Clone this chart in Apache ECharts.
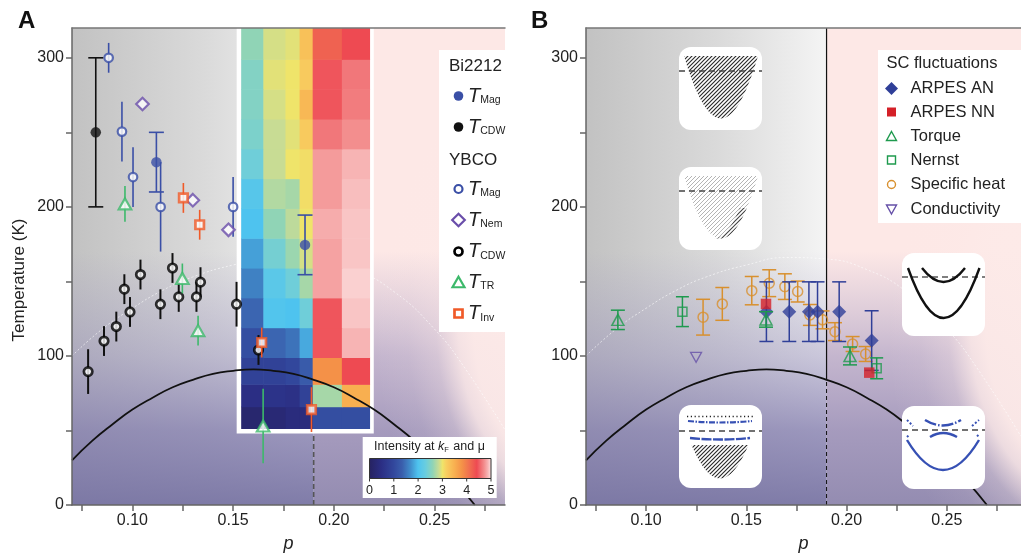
<!DOCTYPE html>
<html>
<head>
<meta charset="utf-8">
<title>Cuprate phase diagram</title>
<script src="https://cdn.jsdelivr.net/npm/echarts@6.0.0/dist/echarts.min.js"></script>
<style>
html, body { margin: 0; padding: 0; background: #ffffff; }
#chart { width: 1021px; height: 556px; }
</style>
</head>
<body>
<div id="chart"></div>
<script>
const FONT = '"Liberation Sans", Arial, Helvetica, sans-serif';

// ---------- axes ----------
const pMin = 0.07;
const pMaxA = 0.285;
const pMaxB = 0.287;
const tMax = 320;
const pTickValues = [0.075, 0.10, 0.125, 0.15, 0.175, 0.20, 0.225, 0.25, 0.275];
const pLabelValues = [0.10, 0.15, 0.20, 0.25];
const tTickValues = [0, 50, 100, 150, 200, 250, 300];
const tLabelValues = [0, 100, 200, 300];
const pCritical = 0.19;

// ---------- superconducting dome ----------
const domeP  = [0.07, 0.08, 0.09, 0.10, 0.11, 0.12, 0.13, 0.14, 0.15, 0.16, 0.17, 0.18, 0.19, 0.20, 0.21, 0.22, 0.23, 0.24, 0.25, 0.26, 0.27];
const domeTc = [30, 43, 54, 64, 72, 79, 84, 88, 90, 91, 90, 88, 84, 79, 72, 64, 54, 43, 30, 16, 0];

// faint crossover arc
const arcP = [0.07, 0.085, 0.10, 0.115, 0.13, 0.15, 0.17, 0.19, 0.21, 0.23, 0.25, 0.265, 0.287];
const arcT = [100, 118, 132, 144, 153, 161, 166, 165, 158, 143, 118, 92, 46];

// ---------- panel A: [p, T, error] ----------
const bi2212Mag = [[0.1119, 230, 20], [0.1857, 174.5, 20]];
const bi2212Cdw = [[0.0818, 250, 50]];
const ybcoMag = [[0.0882, 300, 10], [0.0948, 250.5, 20], [0.1003, 220, 20], [0.114, 200, 30], [0.150, 200, 20]];
const ybcoNem = [[0.105, 269], [0.130, 204.5], [0.1477, 184.6]];
const ybcoCdw = [[0.078, 89.5, 15], [0.0859, 110, 10], [0.092, 119.7, 10], [0.096, 144.8, 10], [0.0988, 129.5, 10],
                 [0.104, 154.6, 10], [0.1139, 134.7, 10], [0.1199, 159, 10], [0.123, 139.6, 10], [0.1318, 139.6, 10],
                 [0.1338, 149.5, 10], [0.1517, 134.7, 15], [0.1626, 104, 10]];
const ybcoTr  = [[0.0963, 202, 12], [0.1248, 152, 10], [0.1326, 117, 10], [0.1649, 53, 25]];
const ybcoInv = [[0.1253, 206, 10], [0.1334, 188, 10], [0.1642, 109, 10], [0.1889, 64, 15]];

// ARPES intensity map: column edges in p, row edges in K, values listed bottom row first
const heatColEdges = [0.154, 0.165, 0.176, 0.183, 0.1895, 0.204, 0.218];
const heatRowEdges = [51, 66, 81, 99, 119, 139, 159, 179, 199, 219, 239, 259, 279, 299, 320];
const heatRows = [
  [0.20, 0.30, 0.40, 0.40, 1.10, 1.10],
  [0.50, 0.60, 0.55, 0.90, 2.70, 3.50],
  [0.90, 0.90, 1.00, 1.30, 3.80, 4.40],
  [1.10, 1.40, 1.50, 1.85, 4.45, 4.85],
  [1.40, 2.05, 2.00, 2.35, 4.45, 4.90],
  [1.60, 2.15, 2.35, 2.70, 4.78, 4.93],
  [1.80, 2.40, 2.65, 2.90, 4.78, 4.90],
  [2.00, 2.60, 2.80, 3.00, 4.82, 4.90],
  [2.10, 2.75, 2.70, 3.05, 4.75, 4.88],
  [2.35, 2.85, 3.00, 3.05, 4.75, 4.85],
  [2.45, 2.85, 2.95, 3.20, 4.60, 4.70],
  [2.50, 2.90, 3.00, 3.40, 4.45, 4.62],
  [2.50, 2.95, 3.00, 3.20, 4.45, 4.60],
  [2.60, 2.90, 2.95, 3.30, 4.20, 4.40]
];
const intensityTicks = [0, 1, 2, 3, 4, 5];

// ---------- panel B: [p, T, error] ----------
const arpesAN = [[0.160, 129.7, 20], [0.1714, 129.7, 20], [0.1812, 129.7, 20], [0.1855, 129.7, 20], [0.1963, 129.7, 20], [0.2125, 110.3, 20]];
const arpesNN = [[0.1598, 134.9], [0.2113, 88.8]];
const torque  = [[0.0859, 124.2, 6.5], [0.1598, 124.5, 5.2], [0.2017, 100, 6]];
const nernst  = [[0.1181, 129.7, 10], [0.215, 91.7, 7]];
const specificHeat = [[0.1284, 126, 12], [0.138, 134.9, 11], [0.1527, 143.8, 9.5], [0.1614, 148.8, 9], [0.1692, 146.5, 8.6],
                      [0.1756, 143.2, 7], [0.1817, 127.5, 7], [0.188, 124.2, 6], [0.1942, 116.3, 6], [0.203, 108, 5], [0.2095, 101.3, 5]];
const conductivity = [[0.1249, 99.1]];

// ---------- colour map for the intensity scale ----------
const intensityStops = [
  [0.0, '#26225f'], [0.5, '#2b2e84'], [1.0, '#32479c'], [1.35, '#3a5eac'], [1.7, '#418fcc'],
  [2.0, '#4ec3ef'], [2.3, '#68cde0'], [2.6, '#90d4b6'], [2.85, '#c8dc94'], [3.0, '#efe46a'],
  [3.15, '#f8cf60'], [3.5, '#f8af50'], [3.8, '#f49148'], [4.1, '#f06e50'], [4.4, '#ee4a52'],
  [4.7, '#f38e8e'], [4.85, '#f7b4b4'], [5.0, '#fde8e8']
];
function hexRgb(h) { return [1, 3, 5].map(i => parseInt(h.slice(i, i + 2), 16)); }
function colorAt(v) {
  const s = intensityStops;
  if (v <= s[0][0]) return s[0][1];
  for (let i = 1; i < s.length; i++) {
    if (v <= s[i][0]) {
      const t = (v - s[i - 1][0]) / (s[i][0] - s[i - 1][0]);
      const a = hexRgb(s[i - 1][1]), b = hexRgb(s[i][1]);
      const c = a.map((x, k) => Math.round(x + (b[k] - x) * t));
      return `rgb(${c[0]},${c[1]},${c[2]})`;
    }
  }
  return s[s.length - 1][1];
}

// ---------- layout ----------
const GA = { left: 72, top: 28, width: 433, height: 477, pMax: pMaxA };
const GB = { left: 586, top: 28, width: 435, height: 477, pMax: pMaxB };

const chart = echarts.init(document.getElementById('chart'), null, { renderer: 'canvas' });

function pAxis(gi, max) {
  return {
    type: 'value', gridIndex: gi, min: pMin, max: max, position: 'bottom', z: 10,
    name: 'p', nameLocation: 'middle', nameGap: 30,
    nameTextStyle: { fontStyle: 'italic', fontSize: 18, color: '#222', fontFamily: FONT },
    axisLine: { show: true, onZero: false, lineStyle: { color: '#666', width: 1.5 } },
    axisTick: { show: true, length: 6, customValues: pTickValues, lineStyle: { color: '#666', width: 1.5 } },
    axisLabel: { show: true, customValues: pLabelValues, formatter: v => v.toFixed(2), fontSize: 16, color: '#222', margin: 8, fontFamily: FONT },
    splitLine: { show: false }
  };
}
function topBorder(gi, max) {
  return {
    type: 'value', gridIndex: gi, min: pMin, max: max, position: 'top', z: 10,
    axisLine: { show: true, onZero: false, lineStyle: { color: '#777', width: 1.5 } },
    axisTick: { show: false }, axisLabel: { show: false }, splitLine: { show: false }
  };
}
function tAxis(gi) {
  return {
    type: 'value', gridIndex: gi, min: 0, max: tMax, z: 10,
    axisLine: { show: true, onZero: false, lineStyle: { color: '#666', width: 1.5 } },
    axisTick: { show: true, length: 6, customValues: tTickValues, lineStyle: { color: '#666', width: 1.5 } },
    axisLabel: { customValues: tLabelValues, fontSize: 16, color: '#222', margin: 8, fontFamily: FONT },
    splitLine: { show: false }
  };
}

// ---------- series builders ----------
function errorBars(ai, rows, color, lineW, capW, z) {
  return {
    type: 'custom', xAxisIndex: ai, yAxisIndex: ai, z: z, silent: true,
    data: rows.filter(r => r.length > 2).map(r => [r[0], r[1] - r[2], r[1] + r[2]]),
    encode: { x: 0, y: [1, 2] },
    renderItem: (params, api) => {
      const lo = api.coord([api.value(0), api.value(1)]);
      const hi = api.coord([api.value(0), api.value(2)]);
      const st = { stroke: color, lineWidth: lineW };
      const kids = [{ type: 'line', shape: { x1: lo[0], y1: lo[1], x2: hi[0], y2: hi[1] }, style: st }];
      if (capW) {
        kids.push({ type: 'line', shape: { x1: lo[0] - capW / 2, y1: lo[1], x2: lo[0] + capW / 2, y2: lo[1] }, style: st });
        kids.push({ type: 'line', shape: { x1: hi[0] - capW / 2, y1: hi[1], x2: hi[0] + capW / 2, y2: hi[1] }, style: st });
      }
      return { type: 'group', children: kids };
    }
  };
}
function marks(ai, rows, symbol, size, itemStyle, z, rotate) {
  return {
    type: 'scatter', xAxisIndex: ai, yAxisIndex: ai, z: z, silent: true,
    symbol: symbol, symbolSize: size, symbolRotate: rotate || 0, itemStyle: itemStyle,
    data: rows.map(r => [r[0], r[1]])
  };
}
function pairs(xs, ys) { return xs.map((x, i) => [x, ys[i]]); }

const heatCells = [];
heatRows.forEach((row, r) => row.forEach((v, c) => {
  heatCells.push([(heatColEdges[c] + heatColEdges[c + 1]) / 2, (heatRowEdges[r] + heatRowEdges[r + 1]) / 2, c, r, v]);
}));
const tcAtCritical = domeTc[domeP.indexOf(pCritical)];

const series = [];
[0, 1].forEach(ai => {
  series.push({
    type: 'line', xAxisIndex: ai, yAxisIndex: ai, z: 1, silent: true, smooth: true, symbol: 'none',
    lineStyle: { color: 'rgba(255,255,255,0.6)', width: 1, type: [2, 2] },
    data: pairs(arcP, arcT)
  });
});

// panel A
series.push({
  type: 'line', xAxisIndex: 0, yAxisIndex: 0, z: 1.5, silent: true, symbol: 'none',
  lineStyle: { color: '#555', width: 1.6, type: [5, 3] },
  data: [[pCritical, 0], [pCritical, heatRowEdges[0]]]
});
series.push({
  type: 'custom', xAxisIndex: 0, yAxisIndex: 0, z: 2, silent: true,
  data: [[(heatColEdges[0] + heatColEdges[heatColEdges.length - 1]) / 2, 150]],
  renderItem: (params, api) => {
    const a = api.coord([heatColEdges[0], tMax]);
    const b = api.coord([heatColEdges[heatColEdges.length - 1], heatRowEdges[0]]);
    return { type: 'rect', shape: { x: a[0] - 4.5, y: a[1], width: b[0] - a[0] + 8.2, height: b[1] - a[1] + 4.4 }, style: { fill: '#ffffff' } };
  }
});
series.push({
  type: 'custom', xAxisIndex: 0, yAxisIndex: 0, z: 3, silent: true,
  data: heatCells,
  renderItem: (params, api) => {
    const c = api.value(2), r = api.value(3), v = api.value(4);
    const a = api.coord([heatColEdges[c], heatRowEdges[r]]);
    const b = api.coord([heatColEdges[c + 1], heatRowEdges[r + 1]]);
    const last = c === heatColEdges.length - 2, bottom = r === 0;
    return {
      type: 'rect',
      shape: { x: a[0], y: b[1], width: b[0] - a[0] + (last ? 0 : 0.6), height: a[1] - b[1] + (bottom ? 0 : 0.6) },
      style: { fill: colorAt(v) }
    };
  }
});
[0, 1].forEach(ai => {
  series.push({
    type: 'line', xAxisIndex: ai, yAxisIndex: ai, z: 4, silent: true, smooth: true, symbol: 'none',
    lineStyle: { color: '#111', width: 1.8 },
    data: pairs(domeP, domeTc)
  });
});

const blueA = '#3a4fa6', purpleA = '#6a4eaa', greenA = '#3db96b', orangeA = '#f05a28';
series.push(errorBars(0, ybcoCdw, '#111', 2, 0, 5));
series.push(marks(0, ybcoCdw, 'circle', 8.5, { color: '#fff', borderColor: '#000', borderWidth: 2.7 }, 5.1));
series.push(errorBars(0, ybcoMag, blueA, 1.6, 0, 5.2));
series.push(marks(0, ybcoMag, 'circle', 8.5, { color: '#fff', borderColor: blueA, borderWidth: 2.2 }, 5.3));
series.push(marks(0, ybcoNem, 'diamond', 12.5, { color: '#fff', borderColor: purpleA, borderWidth: 2.2 }, 5.4));
series.push(errorBars(0, ybcoTr, greenA, 1.6, 0, 5.5));
series.push(marks(0, ybcoTr, 'triangle', [12.5, 11], { color: '#fff', borderColor: greenA, borderWidth: 2.2 }, 5.6));
series.push(errorBars(0, ybcoInv, orangeA, 1.6, 0, 5.7));
series.push(marks(0, ybcoInv, 'rect', 8.5, { color: '#fff', borderColor: orangeA, borderWidth: 2.7 }, 5.8));
series.push(errorBars(0, bi2212Cdw, '#111', 1.6, 15, 5.9));
series.push(marks(0, bi2212Cdw, 'circle', 10.5, { color: '#111' }, 6));
series.push(errorBars(0, bi2212Mag, blueA, 1.6, 15, 6.1));
series.push(marks(0, bi2212Mag, 'circle', 10.5, { color: blueA }, 6.2));

// panel B
series.push({
  type: 'line', xAxisIndex: 1, yAxisIndex: 1, z: 3, silent: true, symbol: 'none',
  lineStyle: { color: '#111', width: 1, type: [4, 3] },
  data: [[pCritical, 0], [pCritical, tcAtCritical]]
});
series.push({
  type: 'line', xAxisIndex: 1, yAxisIndex: 1, z: 3, silent: true, symbol: 'none',
  lineStyle: { color: '#111', width: 1.2 },
  data: [[pCritical, tcAtCritical], [pCritical, tMax]]
});
const blueB = '#2f3f98', redB = '#d42028', greenB = '#1e9a4e', orangeB = '#d8902e', purpleB = '#6550a8';
const hollow = 'rgba(0,0,0,0)';
series.push(errorBars(1, specificHeat, orangeB, 1.5, 14, 5));
series.push(marks(1, specificHeat, 'circle', 10, { color: hollow, borderColor: orangeB, borderWidth: 1.5 }, 5.1));
series.push(errorBars(1, arpesAN, blueB, 1.5, 14, 5.2));
series.push(marks(1, arpesAN, 'diamond', 14, { color: blueB }, 5.3));
series.push(errorBars(1, torque, greenB, 1.5, 14, 5.4));
series.push(marks(1, torque, 'triangle', [12, 11], { color: hollow, borderColor: greenB, borderWidth: 1.5 }, 5.5));
series.push(errorBars(1, nernst, greenB, 1.5, 13, 5.6));
series.push(marks(1, nernst, 'rect', 9, { color: hollow, borderColor: greenB, borderWidth: 1.5 }, 5.7));
series.push(marks(1, conductivity, 'triangle', [11, 10], { color: hollow, borderColor: purpleB, borderWidth: 1.3 }, 5.8, 180));
series.push(marks(1, arpesNN, 'rect', 10.5, { color: redB }, 5.9));

// ---------- backdrop ----------
function backdrop(g) {
  const kx = g.width / (g.pMax - pMin), ky = g.height / tMax;
  const xc = g.left + (pCritical - pMin) * kx;
  const right = g.left + g.width, bottom = g.top + g.height;
  const off = T => (tMax - T) / tMax;
  const haze = al => ({
    type: 'linear', x: 0, y: 0, x2: 0, y2: 1, colorStops: [
      { offset: 0, color: 'rgba(150,140,190,0)' },
      { offset: off(170), color: 'rgba(150,140,190,0)' },
      { offset: off(140), color: `rgba(148,140,188,${al[0]})` },
      { offset: off(100), color: `rgba(140,132,182,${al[1]})` },
      { offset: off(50), color: `rgba(128,122,172,${al[2]})` },
      { offset: 1, color: `rgba(118,114,162,${al[3]})` }
    ]
  });
  const sx = 0.11 * kx / 100, sy = 200 * ky / 100;
  const cx = (g.left + (0.33 - pMin) * kx - xc) / sx;
  const cy = (bottom - 120 * ky - g.top) / sy;
  return [
    { type: 'rect', z: -10, silent: true, shape: { x: g.left, y: g.top, width: xc - g.left, height: g.height },
      style: { fill: { type: 'linear', x: 0, y: 0, x2: 1, y2: 0, colorStops: [
        { offset: 0, color: '#c2c2c2' }, { offset: 0.55, color: '#dadada' }, { offset: 1, color: '#f4f4f4' }] } } },
    { type: 'rect', z: -10, silent: true, shape: { x: xc, y: g.top, width: right - xc, height: g.height }, style: { fill: '#fde8e6' } },
    { type: 'rect', z: -9, silent: true, shape: { x: g.left, y: g.top, width: xc - g.left, height: g.height }, style: { fill: haze([0.18, 0.40, 0.76, 0.92]) } },
    { type: 'rect', z: -9, silent: true, shape: { x: xc, y: g.top, width: right - xc, height: g.height }, style: { fill: haze([0.22, 0.50, 0.70, 0.78]) } },
    { type: 'rect', z: -8, silent: true, x: xc, y: g.top, scaleX: sx, scaleY: sy,
      shape: { x: 0, y: 0, width: (right - xc) / sx, height: g.height / sy },
      style: { fill: { type: 'radial', x: cx, y: cy, r: 100, global: true, colorStops: [
        { offset: 0, color: 'rgba(253,234,232,1)' }, { offset: 0.55, color: 'rgba(253,234,232,0.95)' },
        { offset: 0.62, color: 'rgba(253,234,232,0.82)' }, { offset: 0.72, color: 'rgba(253,234,232,0.3)' },
        { offset: 0.85, color: 'rgba(253,234,232,0.08)' }, { offset: 1, color: 'rgba(253,234,232,0)' }] } } }
  ];
}

// ---------- legend helpers ----------
const ZL = 20;
function txt(x, y, text, size, extra) {
  return { type: 'text', z: ZL + 1, silent: true, x: x, y: y,
    style: Object.assign({ text: text, fontSize: size, fontFamily: FONT, fill: '#222', align: 'left', textAlign: 'left', verticalAlign: 'middle', textVerticalAlign: 'middle' }, extra || {}) };
}
function tSub(x, y, sub) {
  return { type: 'text', z: ZL + 1, silent: true, x: x, y: y,
    style: { text: '{t|T}{s|' + sub + '}', align: 'left', textAlign: 'left', verticalAlign: 'middle', textVerticalAlign: 'middle',
      rich: { t: { fontSize: 20, fontStyle: 'italic', fontFamily: FONT, fill: '#222', verticalAlign: 'bottom' },
              s: { fontSize: 10.5, fontFamily: FONT, fill: '#222', verticalAlign: 'bottom' } } } };
}
function dot(cx, cy, r, fill, stroke, lw) {
  return { type: 'circle', z: ZL + 1, silent: true, shape: { cx: cx, cy: cy, r: r }, style: { fill: fill, stroke: stroke || null, lineWidth: lw || 0 } };
}
function poly(points, fill, stroke, lw) {
  return { type: 'polygon', z: ZL + 1, silent: true, shape: { points: points }, style: { fill: fill, stroke: stroke || null, lineWidth: lw || 0 } };
}
function box(cx, cy, s, fill, stroke, lw) {
  return { type: 'rect', z: ZL + 1, silent: true, shape: { x: cx - s / 2, y: cy - s / 2, width: s, height: s }, style: { fill: fill, stroke: stroke || null, lineWidth: lw || 0 } };
}
const diamondPts = (cx, cy, h) => [[cx, cy - h], [cx + h, cy], [cx, cy + h], [cx - h, cy]];
const triUpPts = (cx, cy, w, h) => [[cx, cy - h / 2], [cx + w / 2, cy + h / 2], [cx - w / 2, cy + h / 2]];
const triDownPts = (cx, cy, w, h) => [[cx, cy + h / 2], [cx + w / 2, cy - h / 2], [cx - w / 2, cy - h / 2]];

const legendA = [
  { type: 'rect', z: ZL, silent: true, shape: { x: 439, y: 50, width: 66, height: 282 }, style: { fill: '#ffffff' } },
  txt(449, 66, 'Bi2212', 17),
  dot(458.5, 96, 4.8, blueA), tSub(468, 96, 'Mag'),
  dot(458.5, 127, 4.8, '#111'), tSub(468, 127, 'CDW'),
  txt(449, 160, 'YBCO', 17),
  dot(458.5, 189, 4, '#fff', blueA, 2.2), tSub(468, 189, 'Mag'),
  poly(diamondPts(458.5, 220, 6.3), '#fff', purpleA, 2.2), tSub(468, 220, 'Nem'),
  dot(458.5, 251.5, 4, '#fff', '#000', 2.7), tSub(468, 251.5, 'CDW'),
  poly(triUpPts(458.5, 282, 12, 10.5), '#fff', greenA, 2.2), tSub(468, 282, 'TR'),
  box(458.5, 313.5, 8, '#fff', orangeA, 2.7), tSub(468, 313.5, 'Inv')
];

// colour bar
const cbX0 = 369.5, cbX1 = 491, cbY = 458.5, cbH = 20;
const colorBar = [
  { type: 'rect', z: ZL, silent: true, shape: { x: 362.7, y: 437, width: 134, height: 61 }, style: { fill: '#ffffff' } },
  { type: 'text', z: ZL + 1, silent: true, x: 429.5, y: 447,
    style: { text: '{n|Intensity at }{k|k}{f|F}{n| and μ}', align: 'center', textAlign: 'center', verticalAlign: 'middle', textVerticalAlign: 'middle',
      rich: { n: { fontSize: 12.5, fontFamily: FONT, fill: '#222', verticalAlign: 'bottom' },
              k: { fontSize: 12.5, fontFamily: FONT, fontStyle: 'italic', fill: '#222', verticalAlign: 'bottom' },
              f: { fontSize: 7.5, fontFamily: FONT, fill: '#222', verticalAlign: 'bottom', padding: [0, 1, 0, 0] } } } },
  { type: 'rect', z: ZL + 1, silent: true, shape: { x: cbX0, y: cbY, width: cbX1 - cbX0, height: cbH },
    style: { fill: { type: 'linear', x: 0, y: 0, x2: 1, y2: 0, colorStops: intensityStops.map(s => ({ offset: s[0] / 5, color: s[1] })) },
             stroke: '#333', lineWidth: 1 } }
];
intensityTicks.forEach(v => {
  const x = cbX0 + (cbX1 - cbX0) * v / 5;
  colorBar.push({ type: 'line', z: ZL + 1, silent: true, shape: { x1: x, y1: cbY + cbH, x2: x, y2: cbY + cbH + 3 }, style: { stroke: '#333', lineWidth: 1 } });
  colorBar.push(txt(x, 491, String(v), 12.5, { align: 'center', textAlign: 'center' }));
});

const legendB = [
  { type: 'rect', z: ZL, silent: true, shape: { x: 878, y: 50, width: 143, height: 173 }, style: { fill: '#ffffff' } },
  txt(886.5, 63.5, 'SC fluctuations', 16.5),
  poly(diamondPts(891.5, 88.5, 6.5), blueB), txt(910.5, 88.5, 'ARPES AN', 16.5),
  box(891.5, 112, 9, redB), txt(910.5, 112, 'ARPES NN', 16.5),
  poly(triUpPts(891.5, 136, 10, 9), hollow, greenB, 1.4), txt(910.5, 136, 'Torque', 16.5),
  box(891.5, 160, 8, hollow, greenB, 1.4), txt(910.5, 160, 'Nernst', 16.5),
  dot(891.5, 184.5, 4, hollow, orangeB, 1.4), txt(910.5, 184.5, 'Specific heat', 16.5),
  poly(triDownPts(891.5, 209.5, 10, 9), hollow, purpleB, 1.4), txt(910.5, 209.5, 'Conductivity', 16.5)
];

// ---------- band-structure sketches ----------
function hatchTile(color, width) {
  const s = 4, cv = document.createElement('canvas');
  cv.width = s; cv.height = s;
  const g = cv.getContext('2d');
  g.strokeStyle = color; g.lineWidth = width;
  g.beginPath();
  g.moveTo(-1, s + 1); g.lineTo(s + 1, -1);
  g.moveTo(-1, 1); g.lineTo(1, -1);
  g.moveTo(s - 1, s + 1); g.lineTo(s + 1, s - 1);
  g.stroke();
  return cv;
}
const hatchDark = hatchTile('#2a2a2a', 1.15);
const hatchLight = hatchTile('#b4b4b4', 1.0);
function bowl(x0, y0, cx, hw, top, vy, n) {
  const pts = [];
  for (let i = 0; i <= n; i++) {
    const x = cx - hw + 2 * hw * i / n;
    const u = (x - cx) / hw;
    pts.push([x0 + x, y0 + vy - (vy - top) * u * u]);
  }
  return pts;
}
function curve(x0, y0, xa, ya, vx, vy, xb, stroke, lw, dash) {
  return { type: 'bezierCurve', z: ZL + 1, silent: true,
    shape: { x1: x0 + xa, y1: y0 + ya, x2: x0 + xb, y2: y0 + ya, cpx1: x0 + vx, cpy1: y0 + 2 * vy - ya },
    style: { stroke: stroke, lineWidth: lw, fill: null, lineDash: dash || null } };
}
function seg(x0, y0, xa, ya, xb, yb, stroke, lw, dash) {
  return { type: 'line', z: ZL + 1, silent: true, shape: { x1: x0 + xa, y1: y0 + ya, x2: x0 + xb, y2: y0 + yb },
    style: { stroke: stroke, lineWidth: lw, lineDash: dash || null } };
}
function card(x0, y0) {
  return { type: 'rect', z: ZL, silent: true, shape: { x: x0, y: y0, width: 83, height: 83, r: 12 }, style: { fill: '#ffffff' } };
}
const bandBlue = '#3650b4';
const sketches = [];
(function () {
  // filled band crossing the chemical potential
  let x0 = 679, y0 = 47;
  sketches.push(card(x0, y0));
  sketches.push({ type: 'polygon', z: ZL + 1, silent: true, shape: { points: bowl(x0, y0, 42, 37, 9, 71.5, 40) }, style: { fill: { image: hatchDark, repeat: 'repeat' } } });
  sketches.push(seg(x0, y0, 0, 24, 83, 24, '#444', 1.5, [6, 4]));
  // fluctuating band
  y0 = 167;
  sketches.push(card(x0, y0));
  sketches.push({ type: 'polygon', z: ZL + 1, silent: true, shape: { points: bowl(x0, y0, 42, 37, 9, 71.5, 40) }, style: { fill: { image: hatchLight, repeat: 'repeat' } } });
  const edge = bowl(x0, y0, 42, 37, 9, 71.5, 40).slice(20, 35);
  const inner = edge.map(p => [p[0] - 7, p[1]]).reverse();
  sketches.push({ type: 'polygon', z: ZL + 1, silent: true, shape: { points: edge.concat(inner) }, style: { fill: { image: hatchDark, repeat: 'repeat' }, opacity: 0.8 } });
  sketches.push(seg(x0, y0, 0, 24, 83, 24, '#444', 1.5, [6, 4]));
  // gapped band with coherence peaks
  y0 = 405;
  sketches.push(card(x0, y0));
  sketches.push({ type: 'polygon', z: ZL + 1, silent: true, shape: { points: bowl(x0, y0, 41, 28.5, 40, 73.5, 30) }, style: { fill: { image: hatchDark, repeat: 'repeat' } } });
  sketches.push(seg(x0, y0, 8, 11.5, 75, 11.5, '#222', 1.5, [1.2, 2.6]));
  sketches.push(curve(x0, y0, 9, 16, 41, 17.5, 73, bandBlue, 2.2, [6, 1.5, 1.5, 1.5]));
  sketches.push(seg(x0, y0, 0, 26, 83, 26, '#444', 1.5, [6, 4]));
  sketches.push(curve(x0, y0, 11, 33, 41, 34.5, 71, bandBlue, 2.4, [10, 1.5]));
  // overdoped bands with gap and shadow features
  x0 = 902; y0 = 406;
  sketches.push(card(x0, y0));
  sketches.push(seg(x0, y0, 0, 24, 83, 24, '#444', 1.5, [6, 4]));
  sketches.push(curve(x0, y0, 5, 34, 41, 64, 77, bandBlue, 2.4));
  sketches.push(curve(x0, y0, 23, 14, 41, 19.5, 59, bandBlue, 2.4, [12, 2, 1.5, 2]));
  sketches.push(curve(x0, y0, 28, 31, 41, 27, 55, bandBlue, 2.4));
  sketches.push(seg(x0, y0, 5, 14, 11, 20, bandBlue, 2, [2, 2]));
  sketches.push(seg(x0, y0, 70, 20, 77, 14, bandBlue, 2, [2, 2]));
  sketches.push(seg(x0, y0, 5, 31, 7, 29, bandBlue, 2, [2, 2]));
  sketches.push(seg(x0, y0, 75, 29, 77, 31, bandBlue, 2, [2, 2]));
  // normal-state bands
  y0 = 253;
  sketches.push(card(x0, y0));
  sketches.push(seg(x0, y0, 0, 24, 83, 24, '#555', 1.5, [6, 4]));
  sketches.push(curve(x0, y0, 20, 15, 41.5, 29, 63, '#111', 2.4));
  sketches.push(curve(x0, y0, 6, 15, 41.5, 65, 77.5, '#111', 2.4));
})();

const annotations = [
  txt(18, 21, 'A', 24, { fontWeight: 'bold', fill: '#111' }),
  txt(531, 21, 'B', 24, { fontWeight: 'bold', fill: '#111' }),
  { type: 'text', z: ZL + 1, silent: true, x: 19.5, y: 280, rotation: Math.PI / 2,
    style: { text: 'Temperature (K)', fontSize: 17, fontFamily: FONT, fill: '#222', align: 'center', textAlign: 'center', verticalAlign: 'middle', textVerticalAlign: 'middle' } }
];

chart.setOption({
  animation: false,
  backgroundColor: '#ffffff',
  grid: [
    { left: GA.left, top: GA.top, width: GA.width, height: GA.height, outerBoundsMode: 'none' },
    { left: GB.left, top: GB.top, width: GB.width, height: GB.height, outerBoundsMode: 'none' }
  ],
  xAxis: [pAxis(0, pMaxA), pAxis(1, pMaxB), topBorder(0, pMaxA), topBorder(1, pMaxB)],
  yAxis: [tAxis(0), tAxis(1)],
  series: series,
  graphic: { elements: [].concat(backdrop(GA), backdrop(GB), legendA, colorBar, legendB, sketches, annotations) }
});
</script>
</body>
</html>
